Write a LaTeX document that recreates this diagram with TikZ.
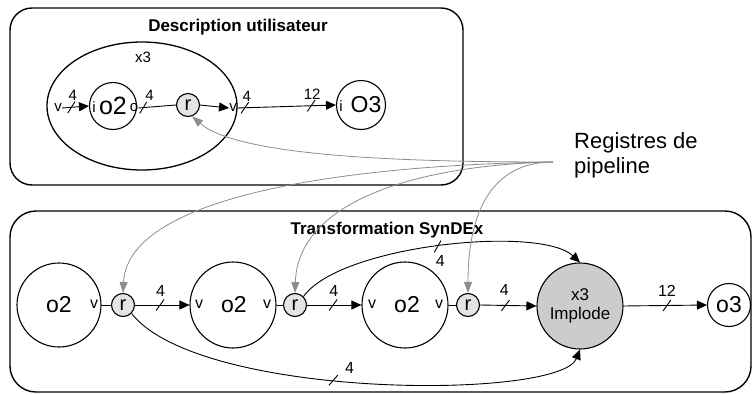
\documentclass[tikz,border=0pt]{standalone}
\usepackage{fontspec}
\setmainfont{Liberation Sans}
\usetikzlibrary{arrows.meta,decorations.markings,shapes.geometric}
\definecolor{regfill}{HTML}{E4E4E4}
\definecolor{impfill}{HTML}{CCCCCC}
\definecolor{grayline}{HTML}{8C8C8C}
\begin{document}
\begin{tikzpicture}[x=1pt,y=-1pt,
  box/.style={draw,line width=1.4pt},
  circ/.style={draw,circle,line width=1.1pt,inner sep=0pt},
  reg/.style={circ,fill=regfill,minimum size=23pt,font=\fontsize{20}{20}\selectfont},
  lbl/.style={inner sep=0pt,font=\fontsize{15}{15}\selectfont},
  blbl/.style={inner sep=0pt,font=\fontsize{16}{16}\selectfont},
  big/.style={inner sep=0pt,font=\fontsize{23}{23}\selectfont},
  ttl/.style={inner sep=0pt,font=\bfseries\fontsize{17}{18}\selectfont},
  conn/.style={line width=0.9pt},
  arr/.style={conn,-{Triangle[length=10pt,width=9pt]}},
  garr/.style={grayline,line width=0.8pt,-{Triangle[length=11pt,width=8pt]}},
  cut at/.style={postaction={decorate,decoration={markings,mark=at position #1 with {\draw[line width=0.9pt,-] (-4pt,-5.5pt)--(4pt,5.5pt);}}}},
]
\useasboundingbox (0,0) rectangle (753,394);

% ---------- top box ----------
\draw[box,rounded corners=22pt] (10,8) rectangle (463,185);
\node[ttl] (t1) at (238,27) {Description utilisateur};
\node[draw,ellipse,line width=1.3pt,minimum width=190pt,minimum height=128pt,inner sep=0pt] (ell) at (142,106) {};
\node[lbl] (x3) at (143,57) {x3};

\node[lbl] (vin) at (58,108) {v};
\node[circ,minimum size=47pt] (o2t) at (113,106) {};
\node[lbl] (it) at (94,107) {i};
\node[big,font=\fontsize{25}{25}\selectfont] (o2tl) at (113,106) {o2};
\node[lbl] (ot) at (134,108) {o};
\node[reg] (rt) at (188,105) {r};
\node[lbl] (vout) at (233,108) {v};
\node[circ,minimum size=49pt] (o3t) at (361,105) {};
\node[lbl] (i3) at (341,106) {i};
\node[big] (o3tl) at (366,105) {O3};

\draw[arr,cut at=0.35] (vin.east) -- node[lbl,pos=0.4,above=6pt]{4} (o2t.west);
\draw[conn,cut at=0.13] (ot.east) -- node[lbl,pos=0.3,above=6pt]{4} (rt.west);
\draw[arr] (rt.east) -- (vout.west);
\draw[arr,cut at=0.08,cut at=0.75] (vout.east) -- node[lbl,pos=0.1,above=6pt]{4} node[lbl,pos=0.76,above=6pt]{12} (o3t.west);

% ---------- label ----------
\node[align=left,anchor=west,inner sep=0pt,font=\fontsize{22}{25}\selectfont] (regs) at (574,155) {Registres de\\pipeline};
\coordinate (hub) at (553,162);

% ---------- bottom box ----------
\draw[box,rounded corners=26pt] (10,211) rectangle (751,392);
\node[ttl] (t2) at (387,230) {Transformation SynDEx};

\node[circ,minimum size=84pt] (c1) at (59,305) {};
\node[big] (c1l) at (59,305) {o2};
\node[blbl] (c1v) at (94,304) {v};
\node[reg] (r1) at (123,305) {r};

\node[circ,minimum size=86pt] (c2) at (233,305) {};
\node[blbl] (c2a) at (199,304) {v};
\node[big] (c2l) at (234,305) {o2};
\node[blbl] (c2b) at (267,304) {v};
\node[reg] (r2) at (295,305) {r};

\node[circ,minimum size=86pt] (c3) at (405,305) {};
\node[blbl] (c3a) at (372,304) {v};
\node[big] (c3l) at (407,305) {o2};
\node[blbl] (c3b) at (439,304) {v};
\node[reg] (r3) at (468,305) {r};

\node[circ,fill=impfill,minimum size=86pt] (imp) at (580,306) {};
\node[align=center,inner sep=0pt,font=\fontsize{17}{19}\selectfont] (impl) at (580,306) {x3\\Implode};

\node[circ,minimum size=43pt] (o3b) at (729,305) {};
\node[big] (o3bl) at (729,305) {o3};

\draw[conn] (c1.east) -- (r1.west);
\draw[conn] (c2.east) -- (r2.west);
\draw[conn] (c3.east) -- (r3.west);
\draw[arr,cut at=0.46] (r1.east) -- node[blbl,pos=0.47,above=8pt]{4} (c2.west);
\draw[arr,cut at=0.48] (r2.east) -- node[blbl,pos=0.49,above=8pt]{4} (c3.west);
\draw[arr,cut at=0.45] (r3.east) -- node[blbl,pos=0.43,above=9pt]{4} (imp.west);
\draw[arr,cut at=0.52] (imp.east) -- node[blbl,pos=0.52,above=9pt]{12} (o3b.west);

\draw[arr,cut at=0.5] (r2.north east) .. controls (340,245) and (540,225) .. node[blbl,pos=0.5,below=9pt]{4} (imp.north);
\draw[arr,cut at=0.46] (r1.south east) .. controls (200,400) and (560,400) .. node[blbl,pos=0.46,above=8pt]{4} (imp.south);

% ---------- gray pointers ----------
\draw[garr] (hub) .. controls (420,162) and (240,158) .. (rt.-70);
\draw[garr] (hub) .. controls (350,165) and (128,195) .. (r1.north);
\draw[garr] (hub) .. controls (420,165) and (298,200) .. (r2.north);
\draw[garr] (hub) .. controls (500,162) and (468,200) .. (r3.north);
\end{tikzpicture}
\end{document}
